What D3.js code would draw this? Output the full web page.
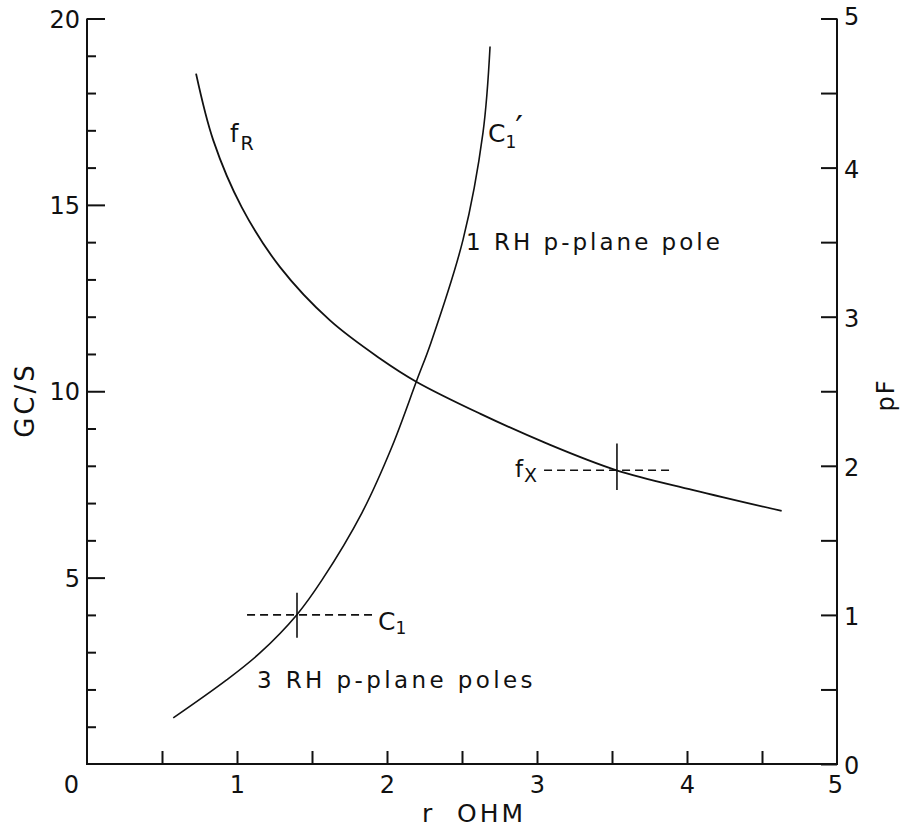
<!DOCTYPE html>
<html>
<head>
<meta charset="utf-8">
<script src="https://cdn.jsdelivr.net/npm/d3@7"></script>
<style>
  html, body { margin: 0; padding: 0; background: #fff; }
  svg { display: block; }
  text { font-family: "DejaVu Sans", sans-serif; fill: #111; }
</style>
</head>
<body>
<svg id="chart" width="906" height="827"></svg>
<script>
// r (ohm) on the bottom axis
const rDomain = [0, 5];
const rTicks = [0, 1, 2, 3, 4, 5];
const rMinorTicks = [0.5, 1.5, 2.5, 3.5, 4.5];

// left axis: frequency in GC/S
const gcDomain = [0, 20];
const gcTicks = [5, 10, 15, 20];
const gcMinorTicks = [1, 2, 3, 4, 6, 7, 8, 9, 11, 12, 13, 14, 16, 17, 18, 19];

// right axis: capacitance in pF
const pfDomain = [0, 5];
const pfTicks = [0, 1, 2, 3, 4, 5];
const pfMinorTicks = [0.5, 1.5, 2.5, 3.5, 4.5];

// f_R curve (GC/S vs r)
const fR_r  = [0.727, 0.842, 1.031, 1.287, 1.62, 1.953, 2.198, 2.62, 3.064, 3.53, 4.042, 4.631];
const fR_gc = [18.52, 16.73, 14.94, 13.33, 11.90, 10.88, 10.25, 9.40, 8.60, 7.88, 7.35, 6.79];

// C1' curve (pF vs r)
const c1_r  = [0.575, 0.931, 1.153, 1.398, 1.567, 1.833, 2.033, 2.2, 2.293, 2.507, 2.64, 2.687];
const c1_pf = [0.309, 0.564, 0.745, 1.0, 1.235, 1.685, 2.128, 2.577, 2.826, 3.517, 4.235, 4.812];

// operating-point markers: crossing point and the extent of the cross hairs
const fxPoint = { r: 3.533, gc: 7.88, rSpan: [3.047, 3.9], gcSpan: [7.35, 8.6] };
const c1Point = { r: 1.4, pf: 1.0, rSpan: [1.067, 1.9], pfSpan: [0.846, 1.148] };

const svg = d3.select("#chart");
const plotLeft = 87, plotRight = 837, plotTop = 18.5, plotBottom = 764;

const x = d3.scaleLinear().domain(rDomain).range([plotLeft, plotRight]);
const yL = d3.scaleLinear().domain(gcDomain).range([plotBottom, plotTop]);
const yR = d3.scaleLinear().domain(pfDomain).range([plotBottom, plotTop]);

const ink = "#111";
const intFmt = d3.format("d");

function styleAxis(g) {
  g.selectAll("path.domain").remove();
  g.selectAll("line").attr("stroke", ink).attr("stroke-width", 2);
  g.selectAll("text")
    .style("font-family", '"DejaVu Sans", sans-serif')
    .style("font-size", "24px")
    .attr("fill", ink);
}

// left axis
svg.append("g").attr("transform", `translate(${plotLeft},0)`)
  .call(d3.axisLeft(yL).tickValues(gcMinorTicks).tickSize(-9).tickFormat(""))
  .call(styleAxis);
svg.append("g").attr("transform", `translate(${plotLeft},0)`)
  .call(d3.axisLeft(yL).tickValues(gcTicks).tickSize(-18).tickPadding(7).tickFormat(intFmt))
  .call(styleAxis)
  .call(g => g.selectAll("text").attr("dy", "0.36em"));

// right axis
svg.append("g").attr("transform", `translate(${plotRight},0)`)
  .call(d3.axisRight(yR).tickValues(pfMinorTicks).tickSize(-16).tickFormat(""))
  .call(styleAxis);
svg.append("g").attr("transform", `translate(${plotRight},0)`)
  .call(d3.axisRight(yR).tickValues(pfTicks).tickSize(-16).tickPadding(7).tickFormat(intFmt))
  .call(styleAxis)
  .call(g => g.selectAll("text").attr("dy", d => d === 5 ? "0.25em" : "0.4em"));

// bottom axis
svg.append("g").attr("transform", `translate(0,${plotBottom})`)
  .call(d3.axisBottom(x).tickValues(rMinorTicks).tickSize(-13).tickFormat(""))
  .call(styleAxis);
svg.append("g").attr("transform", `translate(0,${plotBottom})`)
  .call(d3.axisBottom(x).tickValues(rTicks).tickSize(-13).tickPadding(12).tickFormat(intFmt))
  .call(styleAxis)
  .call(g => g.selectAll(".tick").filter(d => d === 0 || d === 5).select("line").remove())
  .call(g => g.selectAll("text").attr("dx", d => d === 0 ? -16 : (d === 5 ? -2 : 0)));

// axis lines
const frame = d3.path();
frame.moveTo(plotLeft, yL(20));
frame.lineTo(plotLeft, plotBottom);
frame.lineTo(plotRight, plotBottom);
frame.lineTo(plotRight, yR(5));
svg.append("path").attr("d", frame.toString())
  .attr("fill", "none").attr("stroke", ink).attr("stroke-width", 2)
  .attr("stroke-linejoin", "miter");

// axis titles
svg.append("text")
  .attr("transform", "translate(34,400) rotate(-90)")
  .attr("text-anchor", "middle")
  .style("font-size", "26px").style("letter-spacing", "3px")
  .text("GC/S");

svg.append("text")
  .attr("transform", "translate(894,395) rotate(-90)")
  .attr("text-anchor", "middle")
  .style("font-size", "24px").style("letter-spacing", "2px")
  .text("pF");

svg.append("text")
  .attr("x", 422).attr("y", 822)
  .style("font-size", "25px")
  .text("r");
svg.append("text")
  .attr("x", 457).attr("y", 822)
  .style("font-size", "25px").style("letter-spacing", "3px")
  .text("OHM");

// curves
const fRData = fR_r.map((r, i) => [r, fR_gc[i]]);
const c1Data = c1_r.map((r, i) => [r, c1_pf[i]]);

svg.append("path").datum(fRData)
  .attr("d", d3.line().x(d => x(d[0])).y(d => yL(d[1])).curve(d3.curveCatmullRom.alpha(0.5)))
  .attr("fill", "none").attr("stroke", ink).attr("stroke-width", 1.8);

svg.append("path").datum(c1Data)
  .attr("d", d3.line().x(d => x(d[0])).y(d => yR(d[1])).curve(d3.curveCatmullRom.alpha(0.5)))
  .attr("fill", "none").attr("stroke", ink).attr("stroke-width", 1.6);

// cross-hair markers
function crossHair(px, py, xs, ys) {
  svg.append("line")
    .attr("x1", xs[0]).attr("x2", xs[1]).attr("y1", py).attr("y2", py)
    .attr("stroke", ink).attr("stroke-width", 1.6).attr("stroke-dasharray", "8,5");
  svg.append("line")
    .attr("x1", px).attr("x2", px).attr("y1", ys[0]).attr("y2", ys[1])
    .attr("stroke", ink).attr("stroke-width", 1.6);
}
crossHair(x(fxPoint.r), yL(fxPoint.gc), fxPoint.rSpan.map(x), fxPoint.gcSpan.map(yL));
crossHair(x(c1Point.r), yR(c1Point.pf), c1Point.rSpan.map(x), c1Point.pfSpan.map(yR));

// curve labels
const fRLabel = svg.append("text").attr("x", x(0.953)).attr("y", yL(16.68)).style("font-size", "24px");
fRLabel.append("tspan").text("f");
fRLabel.append("tspan").attr("dy", 8).attr("dx", 2).style("font-size", "19px").text("R");

const c1pLabel = svg.append("text").attr("x", x(2.673)).attr("y", yR(4.17)).style("font-size", "25px");
c1pLabel.append("tspan").text("C");
c1pLabel.append("tspan").attr("dy", 6).style("font-size", "17px").text("1");
c1pLabel.append("tspan").attr("dy", -8).attr("dx", -1).style("font-size", "34px").text("\u2032");

const fxLabel = svg.append("text").attr("x", x(2.853)).attr("y", yL(7.7)).style("font-size", "23px");
fxLabel.append("tspan").text("f");
fxLabel.append("tspan").attr("dy", 5).attr("dx", 1).style("font-size", "19px").text("X");

const c1Label = svg.append("text").attr("x", x(1.94)).attr("y", yR(0.897)).style("font-size", "25px");
c1Label.append("tspan").text("C");
c1Label.append("tspan").attr("dy", 4).style("font-size", "17px").text("1");

svg.append("text").attr("x", x(2.527)).attr("y", yR(3.447))
  .style("font-size", "23px").style("letter-spacing", "3px")
  .text("1 RH p-plane pole");

svg.append("text").attr("x", x(1.133)).attr("y", yR(0.51))
  .style("font-size", "23px").style("letter-spacing", "3.4px")
  .text("3 RH p-plane poles");
</script>
</body>
</html>
